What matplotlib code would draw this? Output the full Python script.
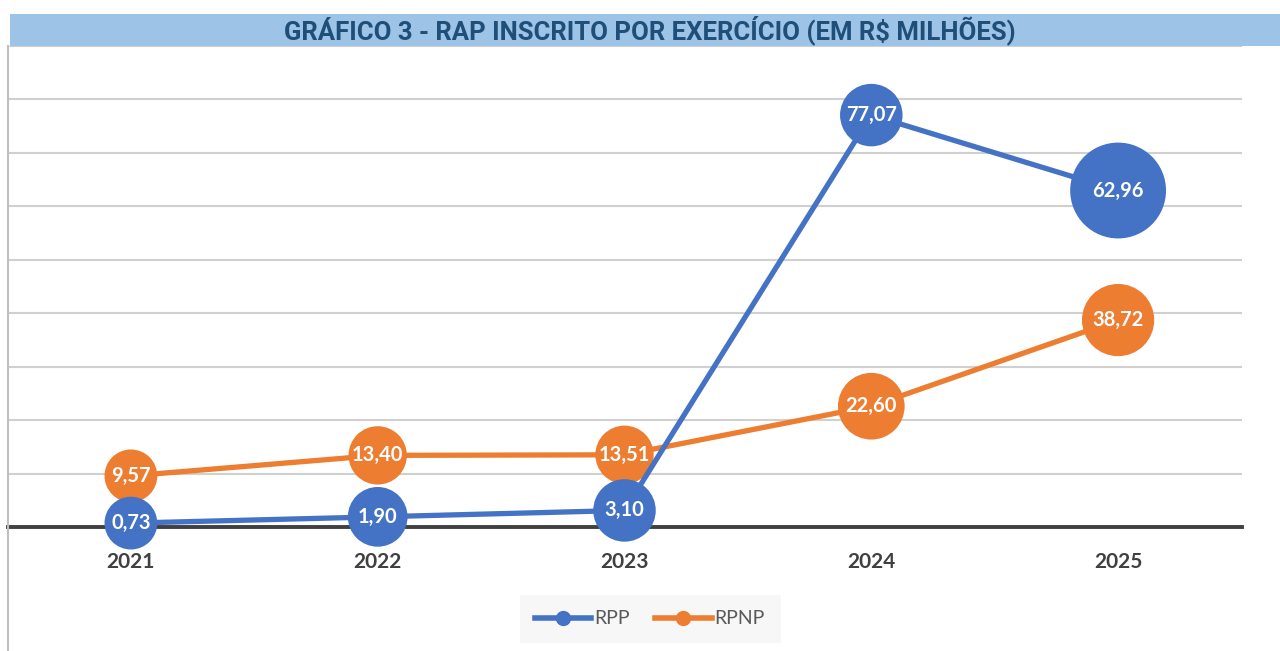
import matplotlib
matplotlib.use("Agg")
import matplotlib.pyplot as plt
from matplotlib.lines import Line2D
from matplotlib.patches import Rectangle

# data
anos = ["2021", "2022", "2023", "2024", "2025"]
rpp = [0.73, 1.90, 3.10, 77.07, 62.96]
rpnp = [9.57, 13.40, 13.51, 22.60, 38.72]

# marker diameters (points) as seen in the picture
rpp_ms = [38, 43, 45, 45, 69]
rpnp_ms = [38, 42, 42, 48, 52]

azul = "#4472C4"
laranja = "#ED7D31"

plt.rcParams["font.family"] = ["Lato", "DejaVu Sans"]

fig = plt.figure(figsize=(12.8, 6.51), dpi=100)
W, H = 1280, 651

# title bar
fig.patches.append(Rectangle((10 / W, 1 - 46 / H), 1 - 10 / W, 32 / H,
                             transform=fig.transFigure, facecolor="#9DC3E6",
                             edgecolor="none", zorder=0))
fig.text(650 / W, 1 - 30 / H, "GRÁFICO 3 - RAP INSCRITO POR EXERCÍCIO (EM R$ MILHÕES)",
         ha="center", va="center", fontsize=18.5, fontweight="bold",
         color="#1F4E79", family=["Roboto", "DejaVu Sans"])
# left border
fig.add_artist(Line2D([8 / W, 8 / W], [0, 1 - 46 / H], transform=fig.transFigure,
                      color="#BFBFBF", lw=1.5))

ax = fig.add_axes([7.5 / W, 1 - 527 / H, 1234 / W, 481 / H])
x = list(range(len(anos)))
ax.set_xlim(-0.5, 4.5)
ax.set_ylim(0, 90)
for v in range(10, 91, 10):
    ax.axhline(v, color="#D0D0D0", lw=1.5, zorder=0)
ax.axhline(0, color="#404040", lw=2.8, zorder=1, clip_on=False)

# orange first, blue on top
ax.plot(x, rpnp, color=laranja, lw=3.8, zorder=2, clip_on=False)
ax.scatter(x, rpnp, s=[m ** 2 for m in rpnp_ms], color=laranja, zorder=3,
           linewidths=0, clip_on=False)
ax.plot(x, rpp, color=azul, lw=3.8, zorder=4, clip_on=False)
ax.scatter(x, rpp, s=[m ** 2 for m in rpp_ms], color=azul, zorder=5,
           linewidths=0, clip_on=False)

for xi, v in zip(x, rpnp):
    ax.text(xi, v, f"{v:.2f}".replace(".", ","), ha="center", va="center",
            color="white", fontsize=14.5, fontweight="bold", zorder=6)
for xi, v in zip(x, rpp):
    ax.text(xi, v, f"{v:.2f}".replace(".", ","), ha="center", va="center",
            color="white", fontsize=14.5, fontweight="bold", zorder=7)

ax.set_xticks(x)
ax.set_xticklabels(anos, fontsize=15, fontweight="bold", color="#404040")
ax.tick_params(axis="x", length=0, pad=18)
ax.set_yticks([])
for s in ax.spines.values():
    s.set_visible(False)
ax.patch.set_alpha(0)

handles = [Line2D([], [], color=azul, lw=4, marker="o", markersize=10),
           Line2D([], [], color=laranja, lw=4, marker="o", markersize=10)]
leg = fig.legend(handles, ["RPP", "RPNP"], loc="center",
                 bbox_to_anchor=(650 / W, 1 - 619 / H), ncol=2, frameon=True,
                 fontsize=14, handlelength=2.9, handletextpad=0.15,
                 columnspacing=1.3, borderpad=0.8, fancybox=False)
leg.get_frame().set_facecolor("#F5F5F5")
leg.get_frame().set_edgecolor("none")
for t in leg.get_texts():
    t.set_color("#595959")

fig.savefig("out.png", dpi=100)
